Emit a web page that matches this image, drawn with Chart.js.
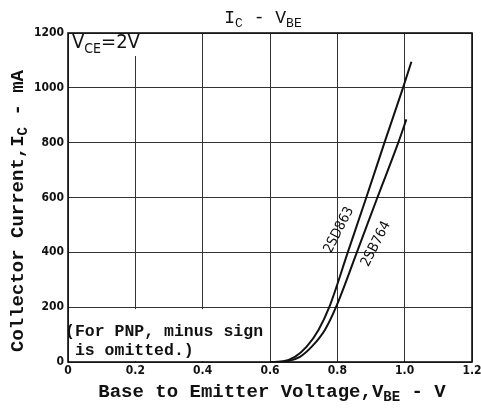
<!DOCTYPE html>
<html>
<head>
<meta charset="utf-8">
<script src="https://cdn.jsdelivr.net/npm/chart.js@4"></script>
<style>
  body { margin: 0; background: #fff; }
  #wrap { width: 481px; height: 412px; }
</style>
</head>
<body>
<div id="wrap"><canvas id="c" width="481" height="412"></canvas></div>
<script>
// curve data (V, mA)
var vbe863 = [0.60, 0.64, 0.674, 0.709, 0.744, 0.776, 0.831, 0.886, 0.94, 0.995, 1.02];
var ic863  = [0, 3, 19, 56, 117, 200, 400, 600, 800, 1000, 1095];
var vbe764 = [0.60, 0.65, 0.689, 0.724, 0.763, 0.796, 0.858, 0.919, 0.981, 1.005];
var ic764  = [0, 3, 19, 56, 117, 200, 400, 600, 800, 885];

var xTicks = [0, 0.2, 0.4, 0.6, 0.8, 1.0, 1.2];
var xTickLabels = ['0', '0.2', '0.4', '0.6', '0.8', '1.0', '1.2'];
var yTicks = [0, 200, 400, 600, 800, 1000, 1200];
var yTickLabels = ['0', '200', '400', '600', '800', '1000', '1200'];

function pts(xs, ys) {
    var out = [];
    for (var i = 0; i < xs.length; i++) out.push({x: xs[i], y: ys[i]});
    return out;
}

var MONO = '"Liberation Mono", "DejaVu Sans Mono", monospace';

// draw text made of pieces, some of them subscripts
function richText(ctx, parts, x, y, size, weight, align, family) {
    family = family || MONO;
    var total = 0;
    parts.forEach(function (p) {
        ctx.font = weight + ' ' + (p.sub ? Math.round(size * 0.72) : size) + 'px ' + family;
        p.w = ctx.measureText(p.t).width;
        total += p.w;
    });
    var cx = align == 'center' ? x - total / 2 : x;
    ctx.textAlign = 'left';
    ctx.textBaseline = 'middle';
    parts.forEach(function (p) {
        ctx.font = weight + ' ' + (p.sub ? Math.round(size * 0.72) : size) + 'px ' + family;
        ctx.fillText(p.t, cx, p.sub ? y + size * 0.3 : y);
        cx += p.w;
    });
}

var decor = {
    id: 'decor',
    afterDatasetsDraw: function (chart) {
        var ctx = chart.ctx, a = chart.chartArea;
        var xs = chart.scales.x, ys = chart.scales.y;
        ctx.save();
        ctx.fillStyle = '#111';

        // frame
        ctx.strokeStyle = '#111';
        ctx.lineWidth = 1.6;
        ctx.strokeRect(a.left, a.top, a.right - a.left, a.bottom - a.top);

        // title
        richText(ctx, [{t: 'I'}, {t: 'C', sub: true}, {t: ' - V'}, {t: 'BE', sub: true}], 263, 18, 18, 'normal', 'center');

        // axis titles
        richText(ctx, [{t: 'Base to Emitter Voltage,V'}, {t: 'BE', sub: true}, {t: ' - V'}], 272, 392, 19, 'bold', 'center');
        ctx.save();
        ctx.translate(18, 211);
        ctx.rotate(-Math.PI / 2);
        richText(ctx, [{t: 'Collector Current,I'}, {t: 'C', sub: true}, {t: ' - mA'}], 0, 0, 19, 'bold', 'center');
        ctx.restore();

        // V_CE note
        ctx.fillStyle = '#fff';
        ctx.fillRect(a.left + 1, a.top + 1, 80, 22);
        ctx.fillStyle = '#111';
        richText(ctx, [{t: 'V'}, {t: 'CE', sub: true}, {t: '=2V'}], 72, 43, 20, 'normal', 'left', '"DejaVu Sans Condensed", sans-serif');

        // PNP note box
        var bx = xs.getPixelForValue(0.6), by = ys.getPixelForValue(200);
        ctx.fillStyle = '#fff';
        ctx.fillRect(a.left + 1, by + 2, bx - a.left - 2, a.bottom - by - 3);
        ctx.fillStyle = '#111';
        richText(ctx, [{t: '(For PNP, minus sign'}], 65, 332, 16.5, 'bold', 'left');
        richText(ctx, [{t: ' is omitted.)'}], 65, 351, 16.5, 'bold', 'left');

        // curve labels
        ctx.font = '14px "DejaVu Sans Condensed", "Liberation Sans Narrow", sans-serif';
        ctx.textAlign = 'center';
        ctx.textBaseline = 'middle';
        ctx.save();
        ctx.translate(339, 230);
        ctx.rotate(-63 * Math.PI / 180);
        ctx.fillText('2SD863', 0, 0);
        ctx.restore();
        ctx.save();
        ctx.translate(376, 244);
        ctx.rotate(-63 * Math.PI / 180);
        ctx.fillText('2SB764', 0, 0);
        ctx.restore();

        ctx.restore();
    }
};

new Chart(document.getElementById('c'), {
    type: 'scatter',
    data: {
        datasets: [{
            label: '2SD863',
            data: pts(vbe863, ic863),
            showLine: true,
            borderColor: '#111',
            borderWidth: 2,
            pointRadius: 0,
            cubicInterpolationMode: 'monotone'
        }, {
            label: '2SB764',
            data: pts(vbe764, ic764),
            showLine: true,
            borderColor: '#111',
            borderWidth: 2,
            pointRadius: 0,
            cubicInterpolationMode: 'monotone'
        }]
    },
    options: {
        responsive: false,
        animation: false,
        layout: { padding: { left: 0, top: 33, right: 9, bottom: 0 } },
        plugins: { legend: { display: false }, tooltip: { enabled: false } },
        scales: {
            x: {
                type: 'linear', min: 0, max: 1.2,
                afterBuildTicks: function (s) { s.ticks = xTicks.map(function (v) { return {value: v}; }); },
                afterFit: function (s) { s.height = 50; s.paddingLeft = 0; s.paddingRight = 0; },
                ticks: {
                    color: '#111', padding: 2, maxRotation: 0,
                    font: { family: '"Liberation Sans Narrow", "DejaVu Sans Condensed", sans-serif', size: 12, weight: 'bold' },
                    callback: function (v) { var i = xTicks.indexOf(v); return i >= 0 ? xTickLabels[i] : ''; }
                },
                grid: { color: '#333', lineWidth: 1, drawTicks: false },
                border: { display: false }
            },
            y: {
                type: 'linear', min: 0, max: 1200,
                afterBuildTicks: function (s) { s.ticks = yTicks.map(function (v) { return {value: v}; }); },
                afterFit: function (s) { s.width = 68; s.paddingTop = 0; s.paddingBottom = 0; },
                ticks: {
                    color: '#111', padding: 4,
                    font: { family: '"Liberation Sans Narrow", "DejaVu Sans Condensed", sans-serif', size: 12, weight: 'bold' },
                    callback: function (v) { var i = yTicks.indexOf(v); return i >= 0 ? yTickLabels[i] : ''; }
                },
                grid: { color: '#333', lineWidth: 1, drawTicks: false },
                border: { display: false }
            }
        }
    },
    plugins: [decor]
});
</script>
</body>
</html>
